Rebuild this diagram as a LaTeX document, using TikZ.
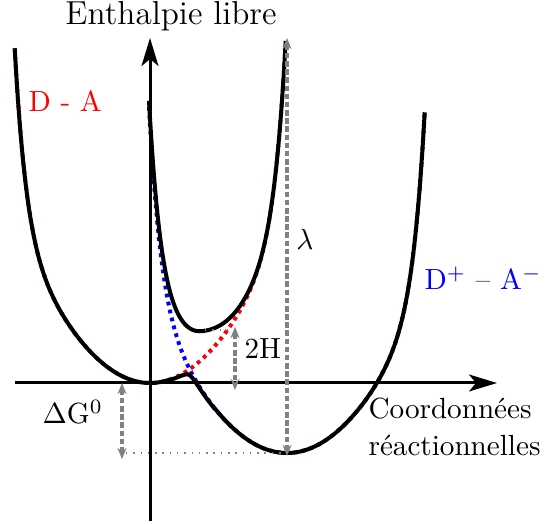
\documentclass[tikz,border=0pt]{standalone}
\usetikzlibrary{arrows.meta}
\begin{document}
\begin{tikzpicture}[x=0.343pt,y=-0.343pt,
  declare function={
    q(\d)=(\d/113)*(\d/113);
    g(\d)=0.88*(\d/100)*(\d/100)+0.2*q(\d)^6;
    Rf(\t)=g(\t-150);
    Bf(\t)=-0.7+g(0.985*(\t-287));
    Hf(\t)=0.41*exp(-(max(\t-200,0)/55)^2);
    upf(\t)=(Rf(\t)+Bf(\t))/2+veclen((Rf(\t)-Bf(\t))/2,Hf(\t));
    lof(\t)=(Rf(\t)+Bf(\t))/2-veclen((Rf(\t)-Bf(\t))/2,0.06);
  },
  curve/.style={line width=1.37pt, line join=round},
  diab/.style={line width=1.37pt, dash pattern=on 1.3pt off 1.5pt},
  axis/.style={line width=1.03pt, -{Stealth[length=9.6pt,width=5.8pt,inset=2.4pt]}},
  garrow/.style={black!50, line width=1.1pt, dash pattern=on 1.9pt off 0.9pt,
    {Stealth[length=3.8pt,width=3.1pt]}-{Stealth[length=3.8pt,width=3.1pt]}},
  gdot/.style={black!50, line width=0.5pt, dotted},
  lbl/.style={inner sep=0pt, font=\fontsize{10}{12}\selectfont}
]
\useasboundingbox (0,0) rectangle (546,525);

% diabatic curves
\draw[diab, red] plot[domain=14.7:285.7, samples=160] (\x,{383-100*Rf(\x)});
\draw[diab, blue] plot[domain=149:424.7, samples=160] (\x,{383-100*Bf(\x)});

% adiabatic curves
\draw[curve] plot[domain=14.7:170, samples=100] (\x,{383-100*Rf(\x)})
  -- plot[domain=170:215, samples=60] (\x,{383-100*lof(\x)})
  -- plot[domain=215:424.7, samples=120] (\x,{383-100*Bf(\x)});
\draw[curve] plot[domain=149:285.7, samples=180] (\x,{383-100*upf(\x)});

% axes
\coordinate (xs) at (15,383);
\coordinate (xe) at (497,383);
\coordinate (ys) at (150,521);
\coordinate (ye) at (150,38);
\draw[axis] (xs) -- (xe);
\draw[axis] (ys) -- (ye);

% measurement arrows
\coordinate (lt) at (287,38);
\coordinate (lb) at (287,456);
\draw[garrow] (lt) -- (lb);
\coordinate (ht) at (235,327);
\coordinate (hb) at (235,390);
\draw[garrow] (ht) -- (hb);
\coordinate (gt) at (122,383);
\coordinate (gb) at (122,459);
\draw[garrow] (gt) -- (gb);
\coordinate (d1) at (126,453);
\coordinate (d2) at (287,453);
\draw[gdot] (d1) -- (d2);
\coordinate (m1) at (205,330);
\coordinate (m2) at (235,330);
\draw[gdot] (m1) -- (m2);

% labels
\node[lbl, anchor=base, font=\fontsize{11.4}{13}\selectfont] (ylab) at (171,25) {Enthalpie libre};
\node[lbl, anchor=base west, text=red] (da) at (28,112) {D - A};
\node[lbl, anchor=base west, text=blue] (dpam) at (424,290) {D$^+$ -- A$^-$};
\node[lbl, anchor=base] (lam) at (305,250) {$\lambda$};
\node[lbl, anchor=base west] (twoh) at (244,359) {2H};
\node[lbl, anchor=base west] (dg) at (42,424) {$\Delta$G$^0$};
\node[lbl, anchor=base west] (co1) at (368,419) {Coordonnées};
\node[lbl, anchor=base west] (co2) at (368,456) {réactionnelles};
\end{tikzpicture}
\end{document}
